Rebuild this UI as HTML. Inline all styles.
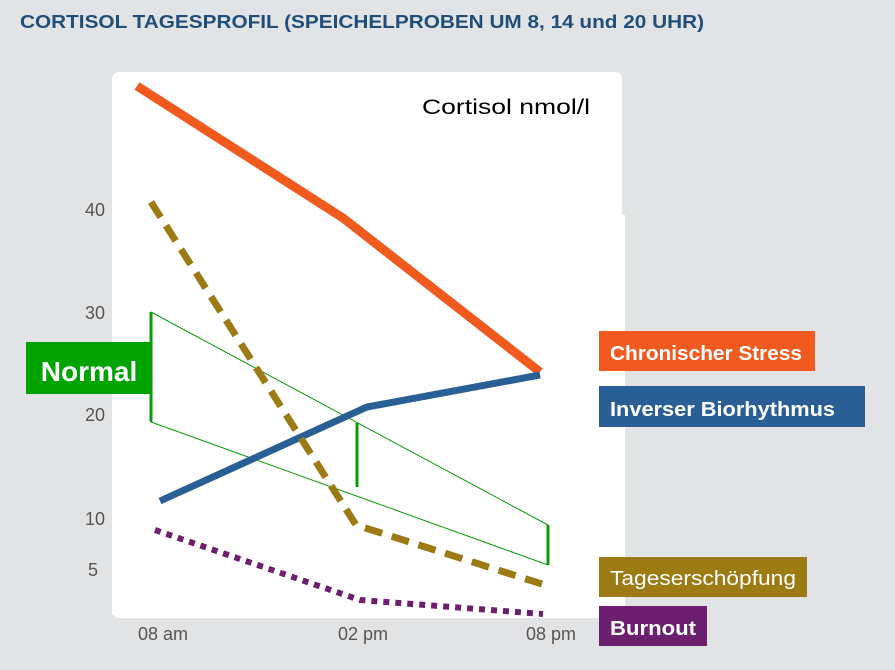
<!DOCTYPE html>
<html><head><meta charset="utf-8"><style>
html,body{margin:0;padding:0;background:#e2e3e5;}
svg{display:block;}
</style></head><body>
<svg width="895" height="670" viewBox="0 0 895 670" xmlns="http://www.w3.org/2000/svg" font-family="Liberation Sans, sans-serif">
<rect width="895" height="670" fill="#e2e3e5"/>
<text x="20" y="28" font-size="18" font-weight="bold" fill="#1f4e79" textLength="684" lengthAdjust="spacingAndGlyphs">CORTISOL TAGESPROFIL (SPEICHELPROBEN UM 8, 14 und 20 UHR)</text>
<rect x="112" y="72" width="510" height="546" rx="7" fill="#fff"/>
<rect x="112" y="215" width="513" height="400" fill="#fff"/>
<text x="422" y="114" font-size="21" fill="#000" textLength="168" lengthAdjust="spacingAndGlyphs">Cortisol nmol/l</text>
<g font-size="18" fill="#555" text-anchor="end">
<text x="105" y="216">40</text><text x="105" y="319">30</text><text x="105" y="421">20</text><text x="105" y="525">10</text><text x="98" y="576">5</text>
</g>
<g font-size="18" fill="#555" text-anchor="middle">
<text x="163" y="640">08 am</text><text x="363" y="640">02 pm</text><text x="551" y="640">08 pm</text>
</g>
<g stroke="#0a9a0a" fill="none">
<line x1="151" y1="312" x2="548" y2="525" stroke-width="1"/>
<line x1="151" y1="422" x2="548" y2="565" stroke-width="1"/>
<line x1="151" y1="312" x2="151" y2="422" stroke-width="3"/>
<line x1="357" y1="423" x2="357" y2="487" stroke-width="3"/>
<line x1="548" y1="525" x2="548" y2="565" stroke-width="3"/>
</g>
<polyline points="137,86 343,218 540,372" fill="none" stroke="#f05a1e" stroke-width="9"/>
<polyline points="160,501 367,407 540,375" fill="none" stroke="#2a5f95" stroke-width="7"/>
<polyline points="151,202 356,525 542,584" fill="none" stroke="#9c7a14" stroke-width="7" stroke-dasharray="18 10"/>
<polyline points="155,530 360,600 543,614" fill="none" stroke="#6b1f6e" stroke-width="6" stroke-dasharray="6 6"/>
<rect x="26" y="342" width="124" height="52" fill="#00a300"/>
<text x="89" y="381" font-size="28" font-weight="bold" fill="#fff" text-anchor="middle">Normal</text>
<g font-size="20" font-weight="bold" fill="#fff">
<rect x="599" y="331" width="216" height="40" fill="#f05a1e"/><text x="610" y="360" textLength="192" lengthAdjust="spacingAndGlyphs">Chronischer Stress</text>
<rect x="599" y="386" width="266" height="41" fill="#2a5f95"/><text x="610" y="416" textLength="225" lengthAdjust="spacingAndGlyphs">Inverser Biorhythmus</text>
<rect x="599" y="557" width="208" height="40" fill="#9c7a14"/><text x="610" y="585" textLength="186" lengthAdjust="spacingAndGlyphs" font-weight="normal">Tageserschöpfung</text>
<rect x="599" y="606" width="108" height="40" fill="#6b1f6e"/><text x="610" y="635" textLength="86" lengthAdjust="spacingAndGlyphs">Burnout</text>
</g>
</svg>
</body></html>
